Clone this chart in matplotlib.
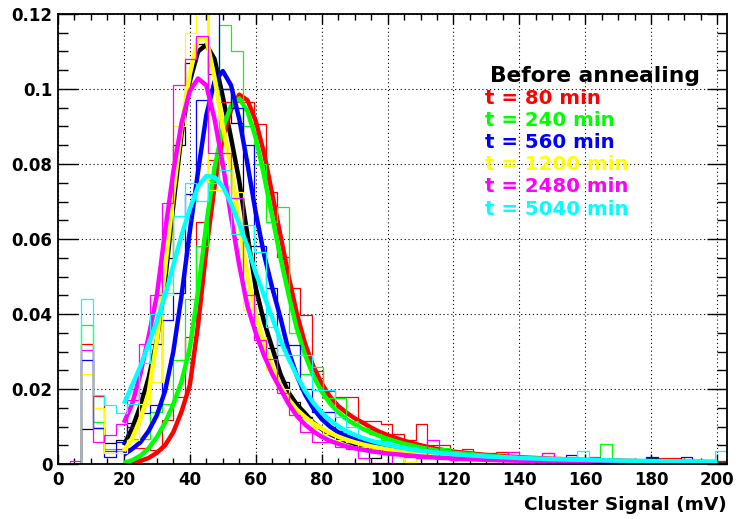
import numpy as np
import matplotlib
matplotlib.use("Agg")
import matplotlib.pyplot as plt
from matplotlib.ticker import MultipleLocator, FixedLocator, FixedFormatter

plt.rcParams['font.family'] = ['DejaVu Sans']
plt.rcParams['font.weight'] = 'bold'

# ---------------- data ----------------
bin_lo = 0.0
bin_width = 3.5
n_bins = 58

series_names = ["Before annealing", "t = 80 min", "t = 240 min", "t = 560 min",
                "t = 1200 min", "t = 2480 min", "t = 5040 min"]
series_colors = ["#000000", "#ff0000", "#00ff00", "#0000ff", "#ffff00", "#ff00ff", "#00ffff"]

hist_before = [0, 0, 0.0093, 0.0095, 0.0055, 0.0063, 0.011, 0.019, 0.032, 0.055,
               0.085, 0.107, 0.112, 0.104, 0.100, 0.091, 0.058, 0.040, 0.031, 0.022,
               0.0165, 0.0125, 0.0095, 0.008, 0.0068, 0.0058, 0.0045, 0.0015, 0.004, 0.0027,
               0.003, 0.0025, 0.0018, 0.0022, 0.0015, 0.0012, 0.0018, 0.0012, 0.001, 0.0014,
               0.0008, 0.0012, 0.001, 0.0008, 0.0006, 0.001, 0.0008, 0.0004, 0.0006, 0.0006,
               0.0004, 0.0016, 0.0003, 0.0008, 0.0002, 0.0004, 0.0003, 0.0006]
hist_80 = [0, 0, 0.0321, 0.0181, 0.0035, 0.0041, 0.0043, 0.0043, 0.0038, 0.0117,
           0.018, 0.034, 0.0645, 0.081, 0.0965, 0.0965, 0.0965, 0.0906, 0.0725, 0.0552,
           0.047, 0.0397, 0.0247, 0.0195, 0.0179, 0.0179, 0.0115, 0.0115, 0.0106, 0.0081,
           0.0065, 0.0106, 0.005, 0.005, 0.0035, 0.004, 0.0028, 0.003, 0.0032, 0.0022,
           0.002, 0.0018, 0.003, 0.0015, 0.0014, 0.0012, 0.0015, 0.001, 0.0012, 0.0008,
           0.001, 0.0012, 0.0016, 0.0016, 0.001, 0.0012, 0.0008, 0.0008]
hist_240 = [0, 0, 0.0372, 0.0112, 0.004, 0.0035, 0.0068, 0.0068, 0.0139, 0.016,
            0.0277, 0.044, 0.058, 0.0757, 0.117, 0.110, 0.090, 0.080, 0.0645, 0.0685,
            0.035, 0.024, 0.026, 0.0175, 0.0175, 0.0115, 0.0095, 0.008, 0.0065, 0.006,
            0.0052, 0.0041, 0.0038, 0.0042, 0.0028, 0.0032, 0.0025, 0.0022, 0.002, 0.0016,
            0.0018, 0.0014, 0.0015, 0.0012, 0.0013, 0.0008, 0.001, 0.0053, 0.0008, 0.0006,
            0.001, 0.0005, 0.0008, 0.0004, 0.0006, 0.0004, 0.0005, 0.0004]
hist_560 = [0, 0, 0.0278, 0.0096, 0.0018, 0.006, 0.0099, 0.0135, 0.0157, 0.0383,
            0.0455, 0.072, 0.097, 0.125, 0.100, 0.095, 0.085, 0.058, 0.047, 0.0317,
            0.0317, 0.020, 0.0139, 0.0139, 0.0089, 0.006, 0.0055, 0.005, 0.0035, 0.004,
            0.003, 0.0028, 0.0025, 0.002, 0.0022, 0.0015, 0.0018, 0.0012, 0.0014, 0.001,
            0.0012, 0.001, 0.0008, 0.001, 0.0023, 0.0006, 0.0008, 0.0006, 0.0005, 0.0006,
            0.0004, 0.0018, 0.0005, 0.0004, 0.0018, 0.0003, 0.0004, 0.0003]
hist_1200 = [0, 0, 0.0241, 0.0149, 0.003, 0.003, 0.0065, 0.016, 0.022, 0.045,
             0.090, 0.115, 0.125, 0.073, 0.073, 0.0725, 0.041, 0.034, 0.025, 0.020,
             0.013, 0.012, 0.0095, 0.008, 0.0065, 0.006, 0.0045, 0.004, 0.0035, 0.003,
             0.0005, 0.0025, 0.002, 0.0018, 0.0015, 0.0012, 0.0015, 0.001, 0.0012, 0.0008,
             0.001, 0.0008, 0.0006, 0.0008, 0.0006, 0.0005, 0.0006, 0.0004, 0.0005, 0.0003,
             0.0004, 0.0008, 0.0003, 0.0004, 0.0003, 0.0002, 0.0003, 0.0002]
hist_2480 = [0, 0.0007, 0.0303, 0.0058, 0.0078, 0.0106, 0.017, 0.0319, 0.045, 0.0695,
             0.101, 0.108, 0.114, 0.083, 0.083, 0.071, 0.045, 0.033, 0.028, 0.019,
             0.013, 0.0085, 0.006, 0.006, 0.0045, 0.004, 0.0015, 0.0003, 0.0003, 0.003,
             0.002, 0.0015, 0.0063, 0.0018, 0.0012, 0.0015, 0.001, 0.0012, 0.0008, 0.0031,
             0.0006, 0.0008, 0.003, 0.0005, 0.0006, 0.0004, 0.0019, 0.0003, 0.0004, 0.0003,
             0.0003, 0.0002, 0.0004, 0.0002, 0.0003, 0.0002, 0.0003, 0.0002]
hist_5040 = [0, 0, 0.0439, 0.0183, 0.0158, 0.0137, 0.0159, 0.027, 0.040, 0.0455,
             0.066, 0.075, 0.070, 0.075, 0.0783, 0.0614, 0.0636, 0.0565, 0.0365, 0.029,
             0.029, 0.029, 0.0197, 0.0197, 0.0125, 0.010, 0.007, 0.0065, 0.006, 0.005,
             0.0045, 0.004, 0.0035, 0.003, 0.0028, 0.0025, 0.0022, 0.002, 0.0018, 0.0015,
             0.0016, 0.0014, 0.0012, 0.0013, 0.001, 0.0035, 0.001, 0.0009, 0.0008, 0.0008,
             0.0007, 0.0008, 0.0006, 0.0007, 0.0006, 0.0005, 0.0006, 0.0035]

fit_x = [20, 22.5, 25, 27.5, 30, 32.5, 35, 37.5, 40, 42.5,
         45, 47.5, 50, 52.5, 55, 57.5, 60, 62.5, 65, 67.5,
         70, 72.5, 75, 77.5, 80, 82.5, 85, 87.5, 90, 92.5,
         95, 97.5, 100, 105, 110, 115, 120, 130, 140, 150,
         160, 170, 180, 190, 200]
fit_before = [0.005, 0.0095, 0.0155, 0.023, 0.033, 0.049, 0.069, 0.088, 0.102, 0.110,
              0.1118, 0.108, 0.098, 0.087, 0.0755, 0.061, 0.047, 0.038, 0.031, 0.024,
              0.019, 0.0158, 0.0135, 0.011, 0.0093, 0.008, 0.007, 0.0061, 0.0054, 0.0048,
              0.0043, 0.0039, 0.0035, 0.0029, 0.0024, 0.002, 0.0017, 0.0013, 0.001, 0.0008,
              0.0006, 0.0005, 0.0004, 0.0003, 0.0003]
fit_80 = [0.0, 0.0003, 0.0008, 0.0016, 0.003, 0.005, 0.0085, 0.014, 0.021, 0.037,
          0.057, 0.074, 0.087, 0.0945, 0.0985, 0.097, 0.0915, 0.083, 0.072, 0.061,
          0.050, 0.040, 0.032, 0.026, 0.0215, 0.018, 0.0155, 0.0137, 0.0122, 0.011,
          0.0097, 0.0086, 0.0077, 0.0062, 0.005, 0.004, 0.0033, 0.0024, 0.0018, 0.0014,
          0.0011, 0.0009, 0.0007, 0.0006, 0.0005]
fit_240 = [0.0003, 0.001, 0.0022, 0.0042, 0.0072, 0.011, 0.016, 0.022, 0.031, 0.046,
           0.064, 0.079, 0.0895, 0.0955, 0.0975, 0.094, 0.087, 0.077, 0.066, 0.055,
           0.045, 0.036, 0.029, 0.0235, 0.0193, 0.0162, 0.0138, 0.012, 0.0106, 0.0094,
           0.0084, 0.0075, 0.0067, 0.0054, 0.0044, 0.0036, 0.003, 0.0022, 0.0016, 0.0012,
           0.001, 0.0008, 0.0006, 0.0005, 0.0004]
fit_560 = [0.0025, 0.004, 0.0058, 0.0088, 0.013, 0.0195, 0.030, 0.045, 0.062, 0.078,
           0.093, 0.102, 0.1048, 0.101, 0.092, 0.080, 0.067, 0.056, 0.047, 0.039,
           0.030, 0.0235, 0.0185, 0.0148, 0.012, 0.010, 0.0085, 0.0074, 0.0066, 0.0059,
           0.0053, 0.0048, 0.0043, 0.0036, 0.003, 0.0026, 0.0022, 0.0017, 0.0013, 0.001,
           0.0008, 0.0006, 0.0005, 0.0004, 0.0003]
fit_1200 = [0.0035, 0.0068, 0.012, 0.019, 0.033, 0.052, 0.072, 0.090, 0.104, 0.1135,
            0.1135, 0.103, 0.090, 0.079, 0.064, 0.050, 0.040, 0.032, 0.026, 0.021,
            0.0172, 0.0145, 0.0125, 0.0108, 0.0095, 0.0083, 0.0073, 0.0065, 0.0058, 0.0052,
            0.0047, 0.0043, 0.0039, 0.0032, 0.0027, 0.0023, 0.0019, 0.0014, 0.0011, 0.0008,
            0.0007, 0.0005, 0.0004, 0.0004, 0.0003]
fit_2480 = [0.011, 0.016, 0.024, 0.034, 0.045, 0.062, 0.078, 0.091, 0.0995, 0.1028,
            0.101, 0.092, 0.080, 0.066, 0.053, 0.042, 0.035, 0.029, 0.024, 0.020,
            0.016, 0.0128, 0.0105, 0.0087, 0.0073, 0.0062, 0.0054, 0.0047, 0.0042, 0.0038,
            0.0034, 0.0031, 0.0028, 0.0024, 0.002, 0.0017, 0.0015, 0.0011, 0.0009, 0.0007,
            0.0005, 0.0004, 0.0003, 0.0003, 0.0002]
fit_5040 = [0.016, 0.021, 0.026, 0.032, 0.038, 0.045, 0.053, 0.061, 0.068, 0.074,
            0.0768, 0.0765, 0.074, 0.0695, 0.064, 0.058, 0.051, 0.045, 0.039, 0.033,
            0.028, 0.0235, 0.0195, 0.0163, 0.0137, 0.0117, 0.0101, 0.0088, 0.0078, 0.0069,
            0.0062, 0.0056, 0.0051, 0.0042, 0.0035, 0.003, 0.0026, 0.002, 0.0016, 0.0013,
            0.0011, 0.0009, 0.0008, 0.0007, 0.0006]

hists = [hist_before, hist_80, hist_240, hist_560, hist_1200, hist_2480, hist_5040]
fits = [fit_before, fit_80, fit_240, fit_560, fit_1200, fit_2480, fit_5040]

x_ticks = [0, 20, 40, 60, 80, 100, 120, 140, 160, 180, 200]
x_tick_labels = ["0", "20", "40", "60", "80", "100", "120", "140", "160", "180", "200"]
y_ticks = [0, 0.02, 0.04, 0.06, 0.08, 0.1, 0.12]
y_tick_labels = ["0", "0.02", "0.04", "0.06", "0.08", "0.1", "0.12"]
x_label = "Cluster Signal (mV)"
legend_title = "Before annealing"

# ---------------- figure ----------------
W, H = 736, 519
fig = plt.figure(figsize=(W / 100, H / 100), dpi=100)
fig.patch.set_facecolor("white")
L, R, T, B = 58, 727, 14, 464
ax = fig.add_axes([L / W, 1 - B / H, (R - L) / W, (B - T) / H])

edges = bin_lo + bin_width * np.arange(n_bins + 1)
x_max = edges[-1]

ax.set_xlim(0, x_max)
ax.set_ylim(0, 0.12)

ax.grid(True, which="major", color="black", linestyle=(0, (1, 2.5)), linewidth=0.8, zorder=0)

for i, (h, f, c) in enumerate(zip(hists, fits, series_colors)):
    ax.stairs(np.array(h), edges, color=c, linewidth=0.9, baseline=0, zorder=2 + 2 * i)
    ax.plot(fit_x, f, color=c, linewidth=3.2, solid_capstyle="butt",
            solid_joinstyle="round", zorder=3 + 2 * i)

ax.xaxis.set_major_locator(FixedLocator(x_ticks))
ax.xaxis.set_major_formatter(FixedFormatter(x_tick_labels))
ax.xaxis.set_minor_locator(MultipleLocator(5))
ax.yaxis.set_major_locator(FixedLocator(y_ticks))
ax.yaxis.set_major_formatter(FixedFormatter(y_tick_labels))
ax.yaxis.set_minor_locator(MultipleLocator(0.005))

ax.tick_params(axis="both", which="both", direction="in", top=True, right=True,
               labelsize=12, width=1.0, color="black")
ax.tick_params(axis="x", which="major", length=7.2, pad=5)
ax.tick_params(axis="x", which="minor", length=4.3)
ax.tick_params(axis="y", which="major", length=14.4, pad=4)
ax.tick_params(axis="y", which="minor", length=7.2)
for lab in ax.get_xticklabels() + ax.get_yticklabels():
    lab.set_fontweight("bold")

for sp in ax.spines.values():
    sp.set_linewidth(1.3)
    sp.set_zorder(30)

fig.text(R / W, 1 - 505 / H, x_label, ha="right", va="center", fontsize=13.3, fontweight="bold")

fig.text(490 / W, 1 - 76 / H, legend_title, ha="left", va="center", fontsize=15.7,
         fontweight="bold", color="black", zorder=40)
line_y = [98.3, 120.5, 142.7, 165, 187, 209.3]
for name, c, yy in zip(series_names[1:], series_colors[1:], line_y):
    fig.text(485 / W, 1 - yy / H, name, ha="left", va="center", fontsize=14.2,
             fontweight="bold", color=c, zorder=40)

fig.savefig("out.png", dpi=100, facecolor="white")
